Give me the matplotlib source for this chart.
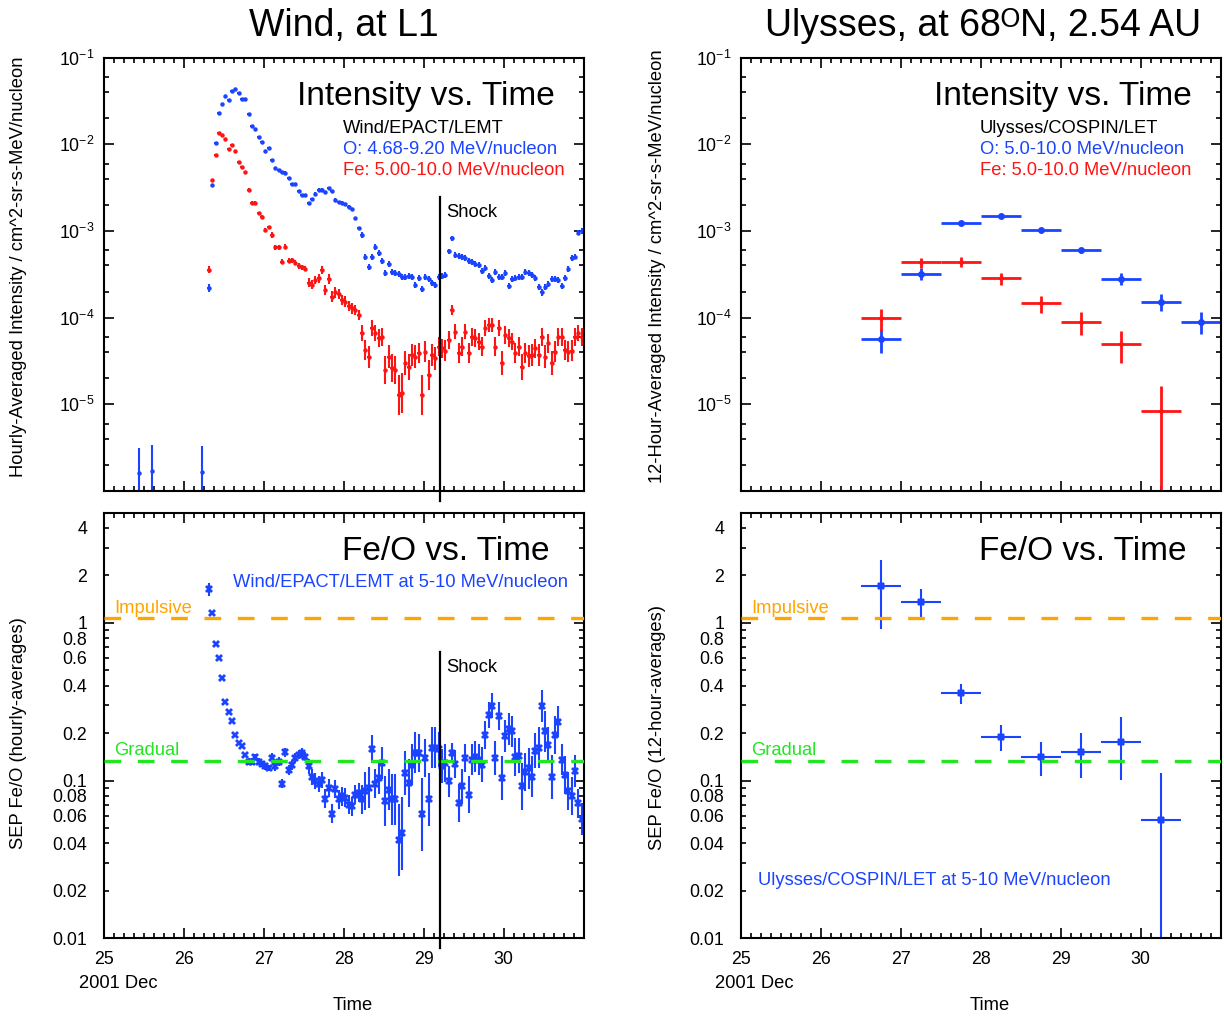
import numpy as np
import matplotlib
matplotlib.use("Agg")
import matplotlib.pyplot as plt
import matplotlib.transforms as mtransforms
from matplotlib.ticker import MultipleLocator, FixedLocator, FuncFormatter, NullFormatter

plt.rcParams['font.family'] = ['Liberation Sans', 'DejaVu Sans']
plt.rcParams['mathtext.fontset'] = 'custom'
plt.rcParams['mathtext.rm'] = 'Liberation Sans'
plt.rcParams['mathtext.it'] = 'Liberation Sans:italic'
plt.rcParams['mathtext.bf'] = 'Liberation Sans:bold'

BLUE = '#1a44ff'
RED = '#ff1414'
ORANGE = '#ffa500'
GREEN = '#22e622'
FS = 13.2       # kleine Beschriftungen
FS_PANEL = 24   # "Intensity vs. Time" usw.

# ------------------- DATEN: WIND (Stundenmittel) -------------------
wind_t0 = 26.312          # erster Stundenwert, Tag im Dez 2001
shock_day = 29.21

wind_o = [
    2.2e-4, 3.4e-3, 1.03e-2, 2.27e-2, 2.89e-2, 3.6e-2, 3.24e-2, 4.12e-2, 4.35e-2, 3.87e-2,
    3.3e-2, 3.3e-2, 2.24e-2, 1.64e-2, 1.5e-2, 1.22e-2, 1.07e-2, 8.4e-3, 9.1e-3, 6.6e-3,
    5.3e-3, 5.0e-3, 4.8e-3, 4.7e-3, 4.1e-3, 3.47e-3, 3.47e-3, 2.89e-3, 2.57e-3, 2.6e-3,
    2.09e-3, 2.33e-3, 2.7e-3, 3.0e-3, 3.0e-3, 2.78e-3, 3.09e-3, 2.89e-3, 2.29e-3, 2.16e-3,
    2.12e-3, 2.05e-3, 1.9e-3, 1.8e-3, 1.4e-3, 1.07e-3, 9.0e-4, 4.97e-4, 3.87e-4, 4.97e-4,
    6.5e-4, 5.6e-4, 4.5e-4, 3.3e-4, 4.16e-4, 3.39e-4, 3.25e-4, 3.19e-4, 2.92e-4, 2.92e-4,
    3.03e-4, 2.97e-4, 2.38e-4, 2.84e-4, 2.12e-4, 2.92e-4, 2.77e-4, 2.49e-4, 2.37e-4, 2.92e-4,
    3.03e-4, 3.11e-4, 5.8e-4, 8.2e-4, 5.3e-4, 5.2e-4, 5.06e-4, 4.84e-4, 4.55e-4, 4.43e-4,
    4.16e-4, 4.05e-4, 3.48e-4, 3.7e-4, 3.03e-4, 2.72e-4, 3.4e-4, 2.92e-4, 2.97e-4, 3.3e-4,
    2.32e-4, 2.77e-4, 2.84e-4, 2.92e-4, 2.97e-4, 3.4e-4, 3.25e-4, 3.11e-4, 2.84e-4, 2.24e-4,
    1.95e-4, 2.24e-4, 2.45e-4, 2.82e-4, 2.77e-4, 2.72e-4, 2.32e-4, 2.84e-4, 3.6e-4, 4.84e-4,
    5.06e-4, 9.5e-4, 1.0e-3,
]
# Fehler O in Dekaden (halbe Balkenlaenge)
wind_o_err = (
    [0.05] + [0.01] * 19 + [0.015] * 26 + [0.035] * 26 + [0.03] * 2 + [0.035] * 36 + [0.03] * 3
)

wind_fe = [
    3.55e-4, 3.87e-3, 7.5e-3, 1.36e-2, 1.28e-2, 1.15e-2, 8.8e-3, 9.8e-3, 8.4e-3, 6.3e-3,
    5.4e-3, 4.75e-3, 2.97e-3, 2.12e-3, 2.09e-3, 1.6e-3, 1.44e-3, 1.03e-3, 1.1e-3, 9.0e-4,
    6.5e-4, 6.5e-4, 4.43e-4, 6.6e-4, 4.54e-4, 4.57e-4, 4.3e-4, 3.94e-4, 3.8e-4, 3.68e-4,
    2.54e-4, 2.4e-4, 2.72e-4, 2.84e-4, 3.55e-4, 2.08e-4, 2.77e-4, 1.75e-4, 1.95e-4, 1.88e-4,
    1.6e-4, 1.53e-4, 1.36e-4, 1.28e-4, 1.23e-4, 1.07e-4, 6.6e-5, 4.24e-5, 3.5e-5, 7.55e-5,
    6.6e-5, 5.8e-5, 6.0e-5, 2.5e-5, 3.55e-5, 2.6e-5, 2.5e-5, 1.28e-5, 1.34e-5, 2.98e-5,
    2.72e-5, 3.7e-5, 3.55e-5, 3.9e-5, 1.28e-5, 4.05e-5, 2.18e-5, 3.7e-5, 3.4e-5, 4.6e-5,
    4.43e-5, 4.17e-5, 5.5e-5, 1.23e-4, 6.9e-5, 3.9e-5, 4.6e-5, 6.9e-5, 3.9e-5, 6.0e-5,
    5.8e-5, 5.3e-5, 4.6e-5, 7.55e-5, 8.2e-5, 8.2e-5, 4.6e-5, 7.55e-5, 2.98e-5, 6.3e-5,
    5.8e-5, 5.3e-5, 3.9e-5, 4.6e-5, 2.72e-5, 3.9e-5, 3.6e-5, 3.7e-5, 4.43e-5, 3.7e-5,
    6.0e-5, 3.55e-5, 5.06e-5, 2.98e-5, 4.05e-5, 6.0e-5, 6.0e-5, 4.24e-5, 4.05e-5, 4.17e-5,
    6.0e-5, 6.6e-5, 6.0e-5,
]
wind_fe_err = [
    0.04, 0.01, 0.01, 0.01, 0.01, 0.01, 0.01, 0.01, 0.01, 0.01,
    0.01, 0.01, 0.02, 0.02, 0.02, 0.02, 0.02, 0.02, 0.02, 0.03,
    0.03, 0.03, 0.03, 0.03, 0.03, 0.03, 0.03, 0.03, 0.03, 0.03,
    0.05, 0.05, 0.05, 0.05, 0.05, 0.06, 0.06, 0.06, 0.06, 0.06,
    0.06, 0.06, 0.06, 0.06, 0.06, 0.06, 0.09, 0.12, 0.13, 0.09,
    0.09, 0.10, 0.10, 0.16, 0.13, 0.16, 0.16, 0.23, 0.23, 0.14,
    0.15, 0.13, 0.13, 0.12, 0.23, 0.12, 0.17, 0.13, 0.13, 0.11,
    0.11, 0.12, 0.10, 0.06, 0.09, 0.12, 0.11, 0.09, 0.12, 0.10,
    0.10, 0.10, 0.11, 0.09, 0.08, 0.08, 0.11, 0.09, 0.14, 0.10,
    0.10, 0.10, 0.12, 0.11, 0.15, 0.12, 0.13, 0.13, 0.11, 0.13,
    0.10, 0.13, 0.11, 0.14, 0.12, 0.10, 0.10, 0.12, 0.12, 0.12,
    0.10, 0.09, 0.10,
]

wind_feo = [
    1.63, 1.15, 0.73, 0.598, 0.45, 0.317, 0.274, 0.24, 0.194, 0.173,
    0.165, 0.145, 0.132, 0.132, 0.141, 0.132, 0.128, 0.123, 0.12, 0.139,
    0.123, 0.132, 0.0957, 0.151, 0.117, 0.126, 0.139, 0.146, 0.15, 0.142,
    0.123, 0.106, 0.099, 0.0957, 0.101, 0.0766, 0.0898, 0.0618, 0.0885, 0.0759,
    0.0796, 0.0778, 0.0705, 0.0688, 0.0816, 0.0836, 0.0759, 0.0856, 0.0899, 0.158,
    0.0957, 0.104, 0.129, 0.074, 0.0877, 0.0759, 0.0759, 0.042, 0.0463, 0.112,
    0.0966, 0.126, 0.15, 0.15, 0.061, 0.139, 0.0759, 0.161, 0.161, 0.158,
    0.124, 0.129, 0.099, 0.15, 0.128, 0.0723, 0.092, 0.139, 0.0816, 0.136,
    0.142, 0.136, 0.126, 0.195, 0.261, 0.298, 0.139, 0.257, 0.104, 0.192,
    0.212, 0.205, 0.142, 0.144, 0.092, 0.113, 0.12, 0.106, 0.155, 0.161,
    0.298, 0.205, 0.169, 0.106, 0.195, 0.237, 0.136, 0.108, 0.0856, 0.0796,
    0.115, 0.0716, 0.0573,
]

# drei fruehe O-Werte mit grossen Fehlern
early_t = [25.44, 25.60, 26.23]
early_o = [1.6e-6, 1.7e-6, 1.65e-6]
early_o_top = [3.1e-6, 3.4e-6, 3.3e-6]

# ------------------- DATEN: ULYSSES (12-Stunden-Mittel) -------------------
uly_t = [26.75, 27.25, 27.75, 28.25, 28.75, 29.25, 29.75, 30.25, 30.75]
uly_o = [5.64e-5, 3.19e-4, 1.22e-3, 1.5e-3, 1.03e-3, 6.04e-4, 2.82e-4, 1.52e-4, 9.0e-5]
uly_o_err = [1.7e-5, 5e-5, 4e-5, 4e-5, 4e-5, 4e-5, 4.3e-5, 3.3e-5, 2.6e-5]
uly_fe_t = [26.75, 27.25, 27.75, 28.25, 28.75, 29.25, 29.75, 30.25]
uly_fe = [9.84e-5, 4.36e-4, 4.43e-4, 2.84e-4, 1.47e-4, 9.0e-5, 4.98e-5, 8.4e-6]
uly_fe_err = [2.8e-5, 5.8e-5, 5.8e-5, 4.6e-5, 3.3e-5, 2.7e-5, 2.0e-5, 8.0e-6]
uly_feo = [1.71, 1.36, 0.358, 0.19, 0.142, 0.152, 0.177, 0.0561]
uly_feo_err = [0.8, 0.28, 0.054, 0.035, 0.035, 0.048, 0.076, 0.056]

impulsive = 1.08
gradual = 0.134

# ------------------- HILFSFUNKTIONEN -------------------
wind_t = wind_t0 + np.arange(len(wind_o)) / 24.0


def dex_err(vals, dex):
    v = np.asarray(vals)
    d = np.asarray(dex)
    return [v * (1 - 10 ** -d), v * (10 ** d - 1)]


def lin_err(vals, err):
    v = np.asarray(vals)
    e = np.asarray(err)
    lo = np.where(e >= v, v * 0.999, e)
    return [lo, e]


def style(ax, bottom):
    ax.set_xlim(25, 31)
    ax.xaxis.set_major_locator(MultipleLocator(1))
    ax.xaxis.set_minor_locator(MultipleLocator(1 / 8))
    ax.tick_params(which='both', direction='in', top=True, right=True,
                   width=1.2, labelsize=12.8, colors='black')
    ax.tick_params(which='major', length=7)
    ax.tick_params(which='minor', length=3.5)
    ax.tick_params(axis='y', which='both', pad=7)
    for sp in ax.spines.values():
        sp.set_linewidth(1.5)
    if bottom:
        ax.xaxis.set_major_formatter(FuncFormatter(lambda v, p: '%d' % v if v < 30.5 else ''))
        ax.tick_params(axis='x', pad=9)
    else:
        ax.xaxis.set_major_formatter(NullFormatter())


def style_intensity(ax):
    ax.set_yscale('log')
    ax.set_ylim(1e-6, 1e-1)
    ax.yaxis.set_major_locator(FixedLocator([1e-6, 1e-5, 1e-4, 1e-3, 1e-2, 1e-1]))
    minors = [m * 10.0 ** e for e in range(-6, -1) for m in (2, 4, 6)]
    ax.yaxis.set_minor_locator(FixedLocator(minors))
    ax.yaxis.set_minor_formatter(NullFormatter())
    ax.yaxis.set_major_formatter(FuncFormatter(
        lambda v, p: '' if v < 5e-6 else r'$10^{%d}$' % int(round(np.log10(v)))))


feo_labels = {4: '4', 2: '2', 1: '1', 0.8: '0.8', 0.6: '0.6', 0.4: '0.4', 0.2: '0.2',
              0.1: '0.1', 0.08: '0.08', 0.06: '0.06', 0.04: '0.04', 0.02: '0.02', 0.01: '0.01'}


def feo_fmt(v, p):
    for k, s in feo_labels.items():
        if abs(v - k) < 1e-3 * k:
            return s
    return ''


def style_feo(ax):
    ax.set_yscale('log')
    ax.set_ylim(0.01, 5)
    ax.yaxis.set_major_locator(FixedLocator([0.01, 0.1, 1]))
    minors = [m * 10.0 ** e for e in (-2, -1, 0) for m in range(2, 10) if m * 10.0 ** e < 5]
    ax.yaxis.set_minor_locator(FixedLocator(minors))
    ax.yaxis.set_major_formatter(FuncFormatter(feo_fmt))
    ax.yaxis.set_minor_formatter(FuncFormatter(feo_fmt))
    ax.tick_params(axis='y', which='both', pad=12, labelsize=12.8)
    ax.axhline(impulsive, color=ORANGE, lw=2.4, dashes=(5, 5), zorder=5)
    ax.axhline(gradual, color=GREEN, lw=2.4, dashes=(5, 5), zorder=5)
    ax.text(0.021, 0.765, 'Impulsive', color=ORANGE, fontsize=FS, transform=ax.transAxes)
    ax.text(0.021, 0.431, 'Gradual', color=GREEN, fontsize=FS, transform=ax.transAxes)
    ax.text(0.93, 0.889, 'Fe/O vs. Time', ha='right', fontsize=FS_PANEL, transform=ax.transAxes)


def shock(ax, y_top, y_text):
    tr = mtransforms.blended_transform_factory(ax.transData, ax.transAxes)
    ax.plot([shock_day, shock_day], [-0.022, y_top], color='black', lw=1.6,
            transform=tr, clip_on=False, zorder=6)
    ax.text(shock_day + 0.075, y_text, 'Shock', fontsize=FS, transform=tr)


# ------------------- PLOTTEN -------------------
fig = plt.figure(figsize=(12.24, 10.18), dpi=100)
W = 479.5 / 1224
ax1 = fig.add_axes([104 / 1224, 1 - 491 / 1018, W, 433.4 / 1018])
ax2 = fig.add_axes([104 / 1224, 1 - 938.3 / 1018, W, 425.6 / 1018])
ax3 = fig.add_axes([741 / 1224, 1 - 491 / 1018, W, 433.4 / 1018])
ax4 = fig.add_axes([741 / 1224, 1 - 938.3 / 1018, W, 425.6 / 1018])

# Wind Intensitaet
style(ax1, False)
style_intensity(ax1)
ax1.errorbar(wind_t, wind_o, yerr=dex_err(wind_o, wind_o_err), xerr=1 / 48,
             fmt='o', ms=3.2, mew=0, color=BLUE, elinewidth=1.5, capsize=0)
ax1.errorbar(wind_t, wind_fe, yerr=dex_err(wind_fe, wind_fe_err), xerr=1 / 48,
             fmt='o', ms=3.2, mew=0, color=RED, elinewidth=1.5, capsize=0)
eo = np.asarray(early_o)
ax1.errorbar(early_t, early_o, yerr=[eo * 0.999, np.asarray(early_o_top) - eo],
             fmt='o', ms=3.2, mew=0, color=BLUE, elinewidth=1.5, capsize=0)
ax1.text(0.94, 0.891, 'Intensity vs. Time', ha='right', fontsize=FS_PANEL, transform=ax1.transAxes)
ax1.text(0.498, 0.827, 'Wind/EPACT/LEMT', fontsize=FS, transform=ax1.transAxes)
ax1.text(0.498, 0.777, 'O: 4.68-9.20 MeV/nucleon', color=BLUE, fontsize=FS, transform=ax1.transAxes)
ax1.text(0.498, 0.729, 'Fe: 5.00-10.0 MeV/nucleon', color=RED, fontsize=FS, transform=ax1.transAxes)
shock(ax1, 0.679, 0.633)

# Wind Fe/O
style(ax2, True)
style_feo(ax2)
ax2.errorbar(wind_t, wind_feo, yerr=dex_err(wind_feo, wind_fe_err), xerr=1 / 48,
             fmt='X', ms=5.5, mew=0, color=BLUE, elinewidth=1.5, capsize=0)
ax2.text(0.968, 0.825, 'Wind/EPACT/LEMT at 5-10 MeV/nucleon', ha='right', color=BLUE,
         fontsize=FS, transform=ax2.transAxes)
shock(ax2, 0.673, 0.626)

# Ulysses Intensitaet
style(ax3, False)
style_intensity(ax3)
ax3.errorbar(uly_t, uly_o, yerr=lin_err(uly_o, uly_o_err), xerr=0.25,
             fmt='o', ms=5, mew=0, color=BLUE, elinewidth=2, capsize=0)
ax3.errorbar(uly_fe_t, uly_fe, yerr=lin_err(uly_fe, uly_fe_err), xerr=0.25,
             fmt='o', ms=3.5, mew=0, color=RED, elinewidth=2, capsize=0)
ax3.text(0.94, 0.891, 'Intensity vs. Time', ha='right', fontsize=FS_PANEL, transform=ax3.transAxes)
ax3.text(0.498, 0.827, 'Ulysses/COSPIN/LET', fontsize=FS, transform=ax3.transAxes)
ax3.text(0.498, 0.777, 'O: 5.0-10.0 MeV/nucleon', color=BLUE, fontsize=FS, transform=ax3.transAxes)
ax3.text(0.498, 0.729, 'Fe: 5.0-10.0 MeV/nucleon', color=RED, fontsize=FS, transform=ax3.transAxes)

# Ulysses Fe/O
style(ax4, True)
style_feo(ax4)
ax4.errorbar(uly_fe_t, uly_feo, yerr=lin_err(uly_feo, uly_feo_err), xerr=0.25,
             fmt='X', ms=5.5, mew=0, color=BLUE, elinewidth=1.5, capsize=0)
ax4.text(0.036, 0.125, 'Ulysses/COSPIN/LET at 5-10 MeV/nucleon', color=BLUE,
         fontsize=FS, transform=ax4.transAxes)

# Titel und Achsenbeschriftungen
fig.text(343.5 / 1224, 1 - 36 / 1018, 'Wind, at L1', ha='center', fontsize=27)
fig.text(983 / 1224, 1 - 36 / 1018, 'Ulysses, at 68\u1d3cN, 2.54 AU', ha='center', fontsize=27)
fig.text(19 / 1224, 1 - 267 / 1018, 'Hourly-Averaged Intensity / cm^2-sr-s-MeV/nucleon',
         rotation=90, ha='center', va='center', fontsize=FS)
fig.text(657 / 1224, 1 - 266 / 1018, '12-Hour-Averaged Intensity / cm^2-sr-s-MeV/nucleon',
         rotation=90, ha='center', va='center', fontsize=FS)
fig.text(19 / 1224, 1 - 733 / 1018, 'SEP Fe/O (hourly-averages)',
         rotation=90, ha='center', va='center', fontsize=FS)
fig.text(657 / 1224, 1 - 727 / 1018, 'SEP Fe/O (12-hour-averages)',
         rotation=90, ha='center', va='center', fontsize=FS)
for xc, xt in [(118, 353), (754, 990)]:
    fig.text(xc / 1224, 1 - 983 / 1018, '2001 Dec', ha='center', va='center', fontsize=FS)
    fig.text(xt / 1224, 1 - 1005 / 1018, 'Time', ha='center', va='center', fontsize=FS)

fig.savefig('out.png', dpi=100)
